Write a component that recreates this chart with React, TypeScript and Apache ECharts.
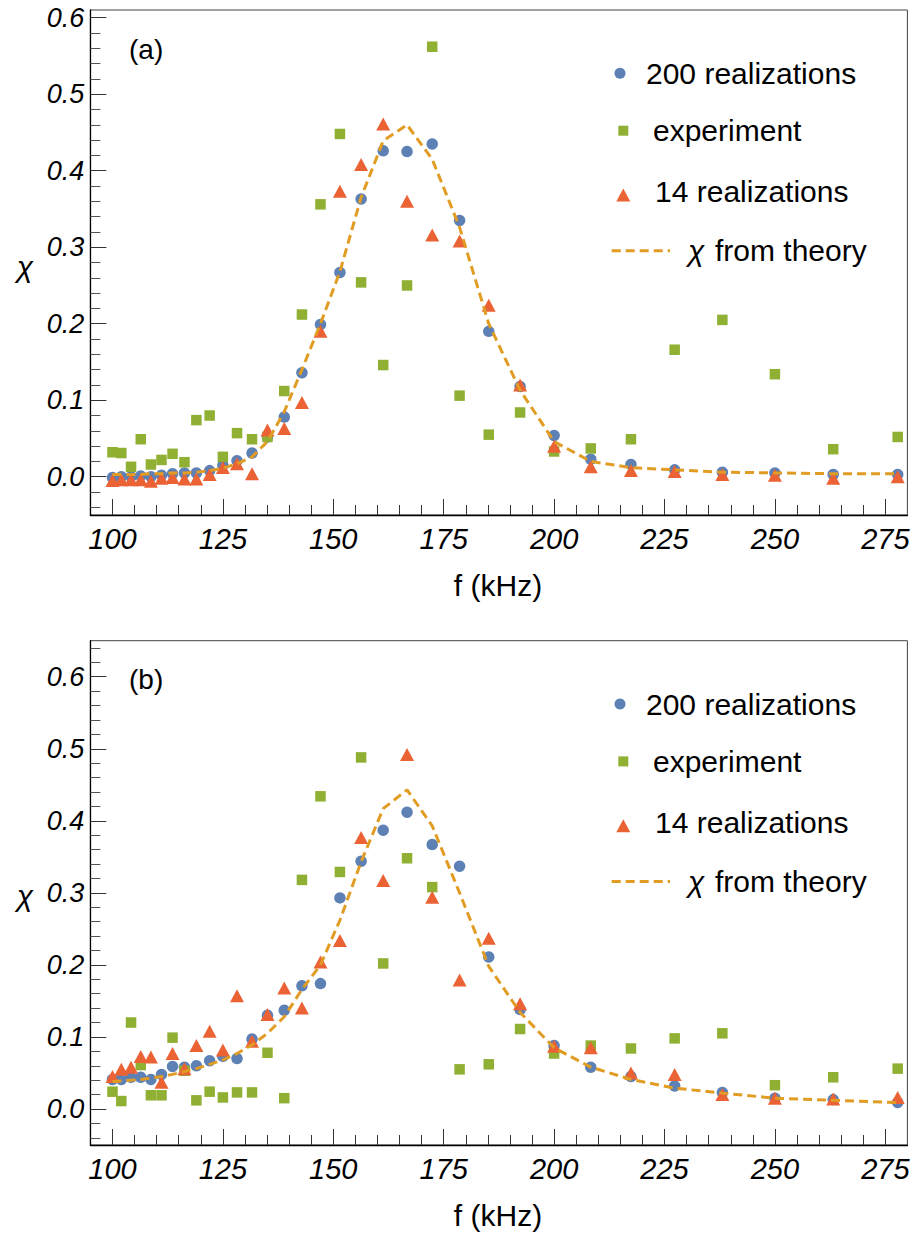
import React, { useEffect, useRef } from "react";
import * as echarts from "echarts";

// frequencies (kHz)
const freq = [100.0, 102.0, 104.2, 106.4, 108.7, 111.1, 113.6, 116.3, 119.0, 122.0, 125.0, 128.2, 131.6, 135.1, 138.9, 142.9, 147.1, 151.5, 156.3, 161.3, 166.7, 172.4, 178.6, 185.2, 192.3, 200.0, 208.3, 217.4, 227.3, 238.1, 250.0, 263.2, 277.8];

// panel (a)
const blueA = [-0.001, 0.0, 0.0, 0.001, 0.0, 0.002, 0.004, 0.005, 0.005, 0.008, 0.015, 0.021, 0.031, 0.052, 0.078, 0.136, 0.199, 0.267, 0.363, 0.426, 0.425, 0.435, 0.335, 0.19, 0.118, 0.054, 0.023, 0.016, 0.009, 0.006, 0.005, 0.003, 0.003];
const greenA = [0.032, 0.031, 0.013, 0.049, 0.016, 0.022, 0.03, 0.019, 0.074, 0.08, 0.026, 0.057, 0.049, 0.052, 0.112, 0.212, 0.356, 0.448, 0.254, 0.146, 0.25, 0.562, 0.106, 0.055, 0.084, 0.033, 0.037, 0.049, 0.166, 0.205, 0.134, 0.036, 0.052];
const redA = [-0.005, -0.004, -0.004, -0.004, -0.006, -0.002, -0.001, -0.003, -0.003, 0.003, 0.012, 0.017, 0.004, 0.061, 0.063, 0.097, 0.19, 0.373, 0.408, 0.461, 0.36, 0.316, 0.308, 0.224, 0.12, 0.04, 0.013, 0.008, 0.007, 0.003, 0.002, -0.002, 0.0];
const theoryA = [0.003, 0.003, 0.003, 0.003, 0.004, 0.004, 0.005, 0.005, 0.006, 0.008, 0.011, 0.017, 0.026, 0.046, 0.085, 0.14, 0.2, 0.268, 0.365, 0.439, 0.46, 0.415, 0.326, 0.2, 0.113, 0.046, 0.02, 0.012, 0.009, 0.006, 0.005, 0.004, 0.004];

// panel (b)
const blueB = [0.041, 0.041, 0.044, 0.044, 0.041, 0.048, 0.059, 0.058, 0.06, 0.067, 0.073, 0.07, 0.097, 0.13, 0.137, 0.171, 0.174, 0.293, 0.344, 0.387, 0.412, 0.367, 0.337, 0.211, 0.138, 0.088, 0.058, 0.045, 0.032, 0.023, 0.015, 0.013, 0.009];
const greenB = [0.024, 0.011, 0.12, 0.061, 0.019, 0.019, 0.099, 0.053, 0.012, 0.024, 0.016, 0.023, 0.023, 0.078, 0.015, 0.318, 0.434, 0.329, 0.488, 0.202, 0.348, 0.308, 0.055, 0.062, 0.111, 0.077, 0.088, 0.084, 0.098, 0.105, 0.033, 0.044, 0.056];
const redB = [0.045, 0.055, 0.058, 0.073, 0.072, 0.037, 0.077, 0.056, 0.088, 0.108, 0.082, 0.157, 0.094, 0.131, 0.168, 0.14, 0.204, 0.234, 0.377, 0.317, 0.492, 0.294, 0.179, 0.237, 0.146, 0.087, 0.085, 0.05, 0.048, 0.02, 0.015, 0.014, 0.016];
const theoryB = [0.038, 0.039, 0.04, 0.041, 0.043, 0.045, 0.048, 0.052, 0.056, 0.062, 0.068, 0.077, 0.089, 0.105, 0.128, 0.166, 0.2, 0.262, 0.343, 0.417, 0.443, 0.393, 0.3, 0.198, 0.134, 0.085, 0.058, 0.041, 0.029, 0.022, 0.015, 0.012, 0.009];

// ticks
const xMajor = [100, 125, 150, 175, 200, 225, 250, 275];
const xMinor = [105, 110, 115, 120, 130, 135, 140, 145, 155, 160, 165, 170, 180, 185, 190, 195, 205, 210, 215, 220, 230, 235, 240, 245, 255, 260, 265, 270];
const yMajor = [0, 0.1, 0.2, 0.3, 0.4, 0.5, 0.6];
const yMinorA = [-0.04, -0.02, 0.02, 0.04, 0.06, 0.08, 0.12, 0.14, 0.16, 0.18, 0.22, 0.24, 0.26, 0.28, 0.32, 0.34, 0.36, 0.38, 0.42, 0.44, 0.46, 0.48, 0.52, 0.54, 0.56, 0.58];
const yMinorB = [-0.04, -0.02, 0.02, 0.04, 0.06, 0.08, 0.12, 0.14, 0.16, 0.18, 0.22, 0.24, 0.26, 0.28, 0.32, 0.34, 0.36, 0.38, 0.42, 0.44, 0.46, 0.48, 0.52, 0.54, 0.56, 0.58, 0.62, 0.64];

const legendLabels = ["200 realizations", "experiment", "14 realizations", "from theory"];

const BLUE = "#5E81B5";
const GREEN = "#8FB032";
const RED = "#EB6235";
const ORANGE = "#E19C24";
const FONT = '"Liberation Sans", Arial, sans-serif';

const X_MIN = 95;
const X_MAX = 280;

const panels = [
  { top: 10, height: 505, yMax: 0.61, yMinor: yMinorA, blue: blueA, green: greenA, red: redA, theory: theoryA, tag: "(a)" },
  { top: 640.7, height: 504.3, yMax: 0.65, yMinor: yMinorB, blue: blueB, green: greenB, red: redB, theory: theoryB, tag: "(b)" },
];

const GRID_LEFT = 90.4;
const GRID_WIDTH = 817;

function txt(text: string, x: number, y: number, size: number, opts: any = {}) {
  const align = opts.align || "left";
  const valign = opts.valign || "middle";
  return {
    type: "text",
    x,
    y,
    silent: true,
    style: {
      text,
      fill: "#000",
      fontSize: size,
      fontFamily: FONT,
      fontStyle: opts.italic ? "italic" : "normal",
      align,
      verticalAlign: valign,
      textAlign: align,
      textVerticalAlign: valign,
    },
  };
}

function buildOption() {
  const grid: any[] = [];
  const xAxis: any[] = [];
  const yAxis: any[] = [];
  const series: any[] = [];
  const graphic: any[] = [];

  panels.forEach((p, gi) => {
    grid.push({
      left: GRID_LEFT,
      top: p.top,
      width: GRID_WIDTH,
      height: p.height,
      show: true,
      borderColor: "#444",
      borderWidth: 1,
      backgroundColor: "transparent",
    });
    xAxis.push({
      gridIndex: gi,
      type: "value",
      position: "bottom",
      min: X_MIN,
      max: X_MAX,
      axisLine: { show: true, onZero: false, lineStyle: { color: "#000", width: 1.3 } },
      axisTick: { show: true, inside: true, length: 16, customValues: xMajor, lineStyle: { color: "#333", width: 1 } },
      axisLabel: {
        show: true,
        customValues: xMajor,
        fontFamily: FONT,
        fontStyle: "italic",
        fontSize: 29,
        color: "#000",
        margin: 9,
        formatter: (v: number) => String(Math.round(v)),
      },
      splitLine: { show: false },
    });
    xAxis.push({
      gridIndex: gi,
      type: "value",
      position: "bottom",
      min: X_MIN,
      max: X_MAX,
      axisLine: { show: false, onZero: false },
      axisTick: { show: true, inside: true, length: 10, customValues: xMinor, lineStyle: { color: "#333", width: 1 } },
      axisLabel: { show: false },
      splitLine: { show: false },
    });
    yAxis.push({
      gridIndex: gi,
      type: "value",
      position: "left",
      min: -0.05,
      max: p.yMax,
      axisLine: { show: true, onZero: false, lineStyle: { color: "#000", width: 1.3 } },
      axisTick: { show: true, inside: true, length: 16, customValues: yMajor, lineStyle: { color: "#333", width: 1 } },
      axisLabel: {
        show: true,
        customValues: yMajor,
        fontFamily: FONT,
        fontStyle: "italic",
        fontSize: 27,
        color: "#000",
        margin: 6,
        formatter: (v: number) => v.toFixed(1),
      },
      splitLine: { show: false },
    });
    yAxis.push({
      gridIndex: gi,
      type: "value",
      position: "left",
      min: -0.05,
      max: p.yMax,
      axisLine: { show: false, onZero: false },
      axisTick: { show: true, inside: true, length: 10, customValues: p.yMinor, lineStyle: { color: "#555", width: 1 } },
      axisLabel: { show: false },
      splitLine: { show: false },
    });

    const xi = gi * 2;
    const yi = gi * 2;
    series.push({
      name: legendLabels[0],
      type: "scatter",
      xAxisIndex: xi,
      yAxisIndex: yi,
      symbol: "circle",
      symbolSize: 11.5,
      itemStyle: { color: BLUE, opacity: 1 },
      data: freq.map((f, i) => [f, p.blue[i]]),
      z: 2,
    });
    series.push({
      name: legendLabels[1],
      type: "scatter",
      xAxisIndex: xi,
      yAxisIndex: yi,
      symbol: "rect",
      symbolSize: 10.5,
      itemStyle: { color: GREEN, opacity: 1 },
      data: freq.map((f, i) => [f, p.green[i]]),
      z: 3,
    });
    series.push({
      name: legendLabels[2],
      type: "scatter",
      xAxisIndex: xi,
      yAxisIndex: yi,
      symbol: "triangle",
      symbolSize: [14, 13],
      itemStyle: { color: RED, opacity: 1 },
      data: freq.map((f, i) => [f, p.red[i]]),
      z: 4,
    });
    series.push({
      name: "χ " + legendLabels[3],
      type: "line",
      xAxisIndex: xi,
      yAxisIndex: yi,
      symbol: "none",
      showSymbol: false,
      lineStyle: { color: ORANGE, width: 3, type: [9, 5] },
      data: freq.map((f, i) => [f, p.theory[i]]),
      z: 5,
    });

    const off = p.top - 10;
    graphic.push(txt(p.tag, 129, 49.5 + off + (gi === 1 ? -0.7 : 0), 28));
    graphic.push(txt("χ", 25, 266 + off + (gi === 1 ? -1 : 0), 30, { italic: true, align: "center" }));
    graphic.push(txt("f (kHz)", 498, 585 + off, 30, { align: "center" }));

    graphic.push({
      type: "circle",
      silent: true,
      shape: { cx: 620, cy: 73.3 + off, r: 5.5 },
      style: { fill: BLUE },
    });
    graphic.push({
      type: "rect",
      silent: true,
      shape: { x: 618.3, y: 125.7 + off, width: 10, height: 10 },
      style: { fill: GREEN },
    });
    graphic.push({
      type: "polygon",
      silent: true,
      shape: { points: [[623.3, 188.5 + off], [630.3, 201.5 + off], [616.3, 201.5 + off]] },
      style: { fill: RED },
    });
    graphic.push({
      type: "line",
      silent: true,
      shape: { x1: 611.7, y1: 250.7 + off, x2: 670, y2: 250.7 + off },
      style: { stroke: ORANGE, lineWidth: 3, lineDash: [9, 5] },
    });
    graphic.push(txt(legendLabels[0], 646, 73.5 + off, 30));
    graphic.push(txt(legendLabels[1], 653, 130.8 + off, 30));
    graphic.push(txt(legendLabels[2], 655, 191.5 + off, 30));
    graphic.push(txt("χ", 688, 250.8 + off, 30, { italic: true }));
    graphic.push(txt(legendLabels[3], 715, 250.8 + off, 30));
  });

  return {
    animation: false,
    backgroundColor: "#fff",
    textStyle: { fontFamily: FONT },
    grid,
    xAxis,
    yAxis,
    series,
    graphic: { elements: graphic },
  };
}

export default function App() {
  const ref = useRef<HTMLDivElement>(null);
  useEffect(() => {
    if (!ref.current) return;
    const chart = echarts.init(ref.current, null, { renderer: "svg", width: 915, height: 1235 });
    chart.setOption(buildOption() as any);
    return () => chart.dispose();
  }, []);
  return (
    <div
      ref={ref}
      style={{ position: "absolute", left: 0, top: 0, width: 915, height: 1235, background: "#fff" }}
    />
  );
}
